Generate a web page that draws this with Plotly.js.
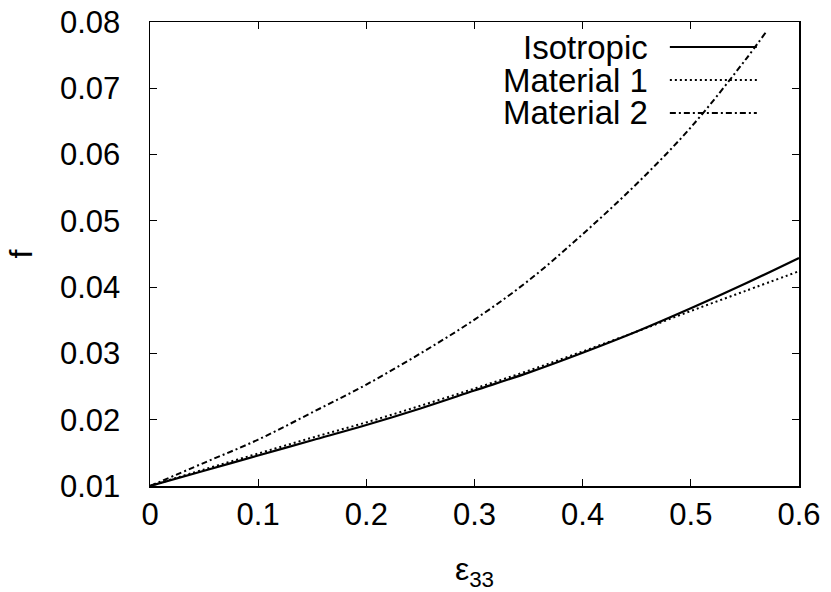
<!DOCTYPE html>
<html>
<head>
<meta charset="utf-8">
<script src="https://cdn.plot.ly/plotly-3.0.1.min.js"></script>
<style>body{margin:0;background:#fff;} #chart{width:831px;height:592px;}</style>
</head>
<body>
<div id="chart"></div>
<script>
// Data
var strainIso = [0, 0.05, 0.1, 0.15, 0.2, 0.25, 0.3, 0.35, 0.4, 0.45, 0.5, 0.55, 0.6];
var fIsotropic = [0.0100, 0.0123, 0.0146, 0.0169, 0.0192, 0.0217, 0.0244, 0.0271, 0.0301, 0.0333, 0.0368, 0.0405, 0.0444];
var strainMat1 = [0, 0.05, 0.1, 0.15, 0.2, 0.25, 0.3, 0.35, 0.4, 0.45, 0.5, 0.55, 0.6];
var fMaterial1 = [0.0100, 0.0125, 0.0149, 0.0173, 0.0196, 0.0221, 0.0247, 0.0274, 0.0303, 0.0333, 0.0364, 0.0394, 0.0424];
var strainMat2 = [0, 0.05, 0.1, 0.15, 0.2, 0.25, 0.3, 0.35, 0.4, 0.45, 0.5, 0.55, 0.57];
var fMaterial2 = [0.0100, 0.0135, 0.0170, 0.0211, 0.0253, 0.0300, 0.0351, 0.0410, 0.0480, 0.0556, 0.0641, 0.0742, 0.0786];
var seriesNames = ["Isotropic", "Material 1", "Material 2"];
var xTicks = [0, 0.1, 0.2, 0.3, 0.4, 0.5, 0.6];
var xTickText = ["0", "0.1", "0.2", "0.3", "0.4", "0.5", "0.6"];
var yTicks = [0.01, 0.02, 0.03, 0.04, 0.05, 0.06, 0.07, 0.08];
var yTickText = ["0.01", "0.02", "0.03", "0.04", "0.05", "0.06", "0.07", "0.08"];

var FONT = "Liberation Sans, Arial, Helvetica, sans-serif";
var dashes = ["solid", "2px,3px", "6px,3px,2px,3px"];

var traces = [
  {x: strainIso, y: fIsotropic, name: seriesNames[0], mode: "lines", line: {color: "#000", width: 2.2, dash: dashes[0], shape: "spline"}},
  {x: strainMat1, y: fMaterial1, name: seriesNames[1], mode: "lines", line: {color: "#000", width: 2, dash: dashes[1], shape: "spline"}},
  {x: strainMat2, y: fMaterial2, name: seriesNames[2], mode: "lines", line: {color: "#000", width: 2, dash: dashes[2], shape: "spline"}}
];

// Manual legend (text left of line sample, as in gnuplot)
var legY = [0.946, 0.875, 0.804];
var annotations = [];
var shapes = [];
for (var i = 0; i < seriesNames.length; i++) {
  annotations.push({xref: "paper", yref: "paper", x: 0.769, y: legY[i], xanchor: "right", yanchor: "middle",
    text: seriesNames[i], showarrow: false, borderpad: 0, font: {family: FONT, size: 33, color: "#000"}});
  shapes.push({type: "line", xref: "paper", yref: "paper", x0: 0.801, x1: 0.935, y0: legY[i], y1: legY[i],
    line: {color: "#000", width: 2, dash: dashes[i]}});
}

var layout = {
  width: 831, height: 592,
  margin: {l: 150, r: 32, t: 22, b: 106},
  paper_bgcolor: "#fff", plot_bgcolor: "#fff",
  showlegend: false,
  font: {family: FONT, size: 31, color: "#000"},
  xaxis: {
    range: [0, 0.6], tickvals: xTicks, ticktext: xTickText,
    showgrid: false, zeroline: false, showline: true, mirror: "allticks",
    linecolor: "#000", linewidth: 1.5, ticks: "inside", ticklen: 7, tickwidth: 1, tickcolor: "#000",
    ticklabelstandoff: 0,
    title: {text: "ε<sub>33</sub>", font: {family: FONT, size: 32}, standoff: 34}
  },
  yaxis: {
    range: [0.01, 0.08], tickvals: yTicks, ticktext: yTickText,
    showgrid: false, zeroline: false, showline: true, mirror: "allticks",
    linecolor: "#000", linewidth: 1.5, ticks: "inside", ticklen: 7, tickwidth: 1, tickcolor: "#000",
    ticklabelstandoff: 22,
    title: {text: "f", font: {family: FONT, size: 32}, standoff: 18}
  },
  annotations: annotations,
  shapes: shapes
};

Plotly.newPlot("chart", traces, layout, {displayModeBar: false, staticPlot: true});
</script>
</body>
</html>
